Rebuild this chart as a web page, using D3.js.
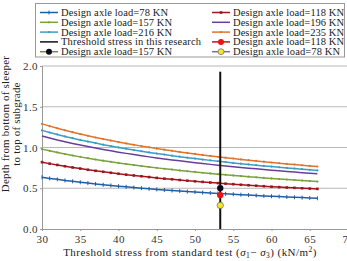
<!DOCTYPE html>
<html><head><meta charset="utf-8">
<script src="https://cdn.jsdelivr.net/npm/d3@7"></script>
<style>body{margin:0;background:#fff;} svg{display:block;} text{font-family:"Liberation Serif","DejaVu Serif",serif;}</style>
</head><body><svg id="c" width="347" height="261"></svg>
<script>
const xValues = [30,31,32,33,34,35,36,37,38,39,40,41,42,43,44,45,46,47,48,49,50,51,52,53,54,55,56,57,58,59,60,61,62,63,64,65,66];
const load78 = [0.635,0.621,0.609,0.596,0.585,0.574,0.563,0.553,0.543,0.534,0.525,0.517,0.509,0.501,0.493,0.486,0.479,0.472,0.466,0.459,0.453,0.447,0.442,0.436,0.431,0.426,0.421,0.416,0.411,0.406,0.402,0.398,0.393,0.389,0.385,0.381,0.377];
const load118 = [0.820,0.802,0.786,0.770,0.755,0.741,0.727,0.714,0.702,0.690,0.678,0.667,0.657,0.647,0.637,0.627,0.618,0.610,0.601,0.593,0.585,0.578,0.570,0.563,0.556,0.550,0.543,0.537,0.531,0.525,0.519,0.514,0.509,0.505,0.500,0.496,0.492];
const load157 = [0.980,0.959,0.939,0.920,0.902,0.885,0.869,0.853,0.838,0.824,0.811,0.797,0.785,0.773,0.761,0.750,0.739,0.729,0.719,0.709,0.700,0.690,0.682,0.673,0.665,0.657,0.649,0.642,0.634,0.627,0.620,0.613,0.607,0.601,0.594,0.588,0.582];
const load196 = [1.140,1.116,1.092,1.071,1.050,1.030,1.011,0.993,0.975,0.959,0.943,0.928,0.913,0.899,0.885,0.872,0.860,0.848,0.836,0.825,0.814,0.803,0.793,0.783,0.773,0.764,0.755,0.746,0.738,0.730,0.721,0.714,0.706,0.699,0.691,0.684,0.678];
const load216 = [1.210,1.184,1.160,1.136,1.114,1.093,1.073,1.054,1.035,1.018,1.001,0.985,0.969,0.954,0.940,0.926,0.913,0.900,0.887,0.875,0.864,0.852,0.842,0.831,0.821,0.811,0.801,0.792,0.783,0.774,0.766,0.757,0.749,0.742,0.734,0.726,0.719];
const load235 = [1.290,1.262,1.236,1.211,1.188,1.165,1.144,1.123,1.104,1.085,1.067,1.050,1.033,1.017,1.002,0.987,0.973,0.959,0.946,0.933,0.921,0.909,0.897,0.886,0.875,0.865,0.854,0.845,0.835,0.826,0.816,0.808,0.799,0.791,0.782,0.774,0.767];
const thresholdStress = 53.3;
const pointLabels = ["157 KN","118 KN","78 KN"];
const pointValues = [0.502, 0.416, 0.290];
const xTicks = [30,35,40,45,50,55,60,65,70];
const yTicks = [0.0,0.5,1.0,1.5,2.0];

const svg = d3.select("#c");
const x = d3.scaleLinear().domain([30,70]).range([42,348]);
const y = d3.scaleLinear().domain([0,2]).range([229,66]);

svg.append("g").selectAll("line").data(yTicks.slice(1)).join("line")
  .attr("x1",x(30)).attr("x2",x(70)).attr("y1",d=>y(d)).attr("y2",d=>y(d))
  .attr("stroke","#b8b8b8").attr("stroke-width",1);

const xa = svg.append("g").attr("transform",`translate(0,${y(0)})`)
  .call(d3.axisBottom(x).tickValues(xTicks).tickSize(2).tickPadding(4).tickFormat(d3.format("d")));
const ya = svg.append("g").attr("transform",`translate(${x(30)},0)`)
  .call(d3.axisLeft(y).tickValues(yTicks).tickSize(2).tickPadding(2).tickFormat(d3.format(".1f")));
[xa,ya].forEach(a=>{
  a.select(".domain").attr("stroke","#999");
  a.selectAll(".tick line").attr("stroke","#999");
  a.selectAll("text").attr("font-family","Liberation Serif, serif").attr("font-size",11)
    .attr("letter-spacing",0.4).attr("fill","#333");
});

const series = [
  {name:"Design axle load=78 KN", vals:load78, color:"#1f5fa8", marker:"plus"},
  {name:"Design axle load=118 KN", vals:load118, color:"#a0141c", marker:"square"},
  {name:"Design axle load=157 KN", vals:load157, color:"#7aa33a", marker:"dot"},
  {name:"Design axle load=196 KN", vals:load196, color:"#6a3d9a", marker:"none"},
  {name:"Design axle load=216 KN", vals:load216, color:"#3a9ec4", marker:"dot"},
  {name:"Design axle load=235 KN", vals:load235, color:"#e0742a", marker:"dot"}
];
const line = d3.line().x(d=>x(d[0])).y(d=>y(d[1]));
function drawMarker(g, type, cx, cy, color){
  if(type==="plus"){
    g.append("line").attr("x1",cx).attr("x2",cx).attr("y1",cy-2).attr("y2",cy+2).attr("stroke",color).attr("stroke-width",1);
  } else if(type==="square"){
    g.append("rect").attr("x",cx-1.3).attr("y",cy-1.3).attr("width",2.6).attr("height",2.6).attr("fill",color);
  } else if(type==="dot"){
    g.append("circle").attr("cx",cx).attr("cy",cy).attr("r",1.1).attr("fill",color);
  }
}
series.forEach(s=>{
  const pts = xValues.map((xv,i)=>[xv,s.vals[i]]);
  svg.append("path").datum(pts).attr("d",line).attr("fill","none").attr("stroke",s.color).attr("stroke-width",1.5);
  const g = svg.append("g");
  pts.forEach(p=>drawMarker(g,s.marker,x(p[0]),y(p[1]),s.color));
});

svg.append("line").attr("x1",x(thresholdStress)).attr("x2",x(thresholdStress))
  .attr("y1",y(1.93)).attr("y2",y(0)).attr("stroke","#111").attr("stroke-width",2);

const ptColors = ["#0a0a1a","#ee1111","#f2e62a"];
svg.append("g").selectAll("circle").data(pointValues).join("circle")
  .attr("cx",x(thresholdStress)).attr("cy",d=>y(d)).attr("r",3.2)
  .attr("fill",(d,i)=>ptColors[i]).attr("stroke",(d,i)=>i===2?"#555":"none").attr("stroke-width",0.6);

const lg = svg.append("g");
lg.append("rect").attr("x",35.5).attr("y",3.5).attr("width",309).attr("height",53.5)
  .attr("fill","#fff").attr("stroke","#999").attr("stroke-width",1);
const legendItems = [
  {name:series[0].name, color:series[0].color, m:"plus"},
  {name:series[1].name, color:series[1].color, m:"square"},
  {name:series[2].name, color:series[2].color, m:"dot"},
  {name:series[3].name, color:series[3].color, m:"none"},
  {name:series[4].name, color:series[4].color, m:"dot"},
  {name:series[5].name, color:series[5].color, m:"dot"},
  {name:"Threshold stress in this research", color:"#111", m:"none"},
  {name:"Design axle load=" + pointLabels[1], color:"#c0141c", m:"big", fill:ptColors[1]},
  {name:"Design axle load=" + pointLabels[0], color:"#7a8a3a", m:"big", fill:ptColors[0]},
  {name:"Design axle load=" + pointLabels[2], color:"#7070b0", m:"big", fill:ptColors[2]}
];
legendItems.forEach((it,i)=>{
  const col = i%2, row = Math.floor(i/2);
  const lx = col===0 ? 40 : 212;
  const ly = 12.5 + row*9.8;
  lg.append("line").attr("x1",lx).attr("x2",lx+18).attr("y1",ly).attr("y2",ly)
    .attr("stroke",it.color).attr("stroke-width",1.5);
  if(it.m==="big"){
    lg.append("circle").attr("cx",lx+9).attr("cy",ly).attr("r",3).attr("fill",it.fill)
      .attr("stroke",i===9?"#555":"none").attr("stroke-width",0.6);
  } else {
    drawMarker(lg,it.m,lx+9,ly,it.color);
  }
  const t = lg.append("text").attr("x",lx+21).attr("y",ly+3.4).attr("font-size",10.5).attr("fill","#222").text(it.name);
  // widen to match the reference's Computer Modern metrics
  const target = it.name.startsWith("Threshold") ? 140 : (it.name.length > 22 ? 111 : 107);
  t.attr("textLength", target).attr("lengthAdjust","spacing");
});

const xl = svg.append("text").attr("x",190).attr("y",256).attr("text-anchor","middle").attr("font-size",11)
  .attr("letter-spacing",0.45).attr("fill","#222");
xl.append("tspan").text("Threshold stress from standard test (");
xl.append("tspan").attr("font-style","italic").text("σ");
xl.append("tspan").attr("font-size",7.5).attr("dy",2).text("1");
xl.append("tspan").attr("dy",-2).text("− ");
xl.append("tspan").attr("font-style","italic").text("σ");
xl.append("tspan").attr("font-size",7.5).attr("dy",2).text("3");
xl.append("tspan").attr("dy",-2).text(") (kN/m");
xl.append("tspan").attr("font-size",7.5).attr("dy",-4).text("2");
xl.append("tspan").attr("dy",4).text(")");

const yl = svg.append("text").attr("transform","translate(9,124) rotate(-90)").attr("text-anchor","middle").attr("font-size",11)
  .attr("letter-spacing",0.2).attr("fill","#222");
yl.append("tspan").attr("x",0).attr("dy",0).text("Depth from bottom of sleeper");
yl.append("tspan").attr("x",0).attr("dy",11).text("to top of subgrade");
</script></body></html>
